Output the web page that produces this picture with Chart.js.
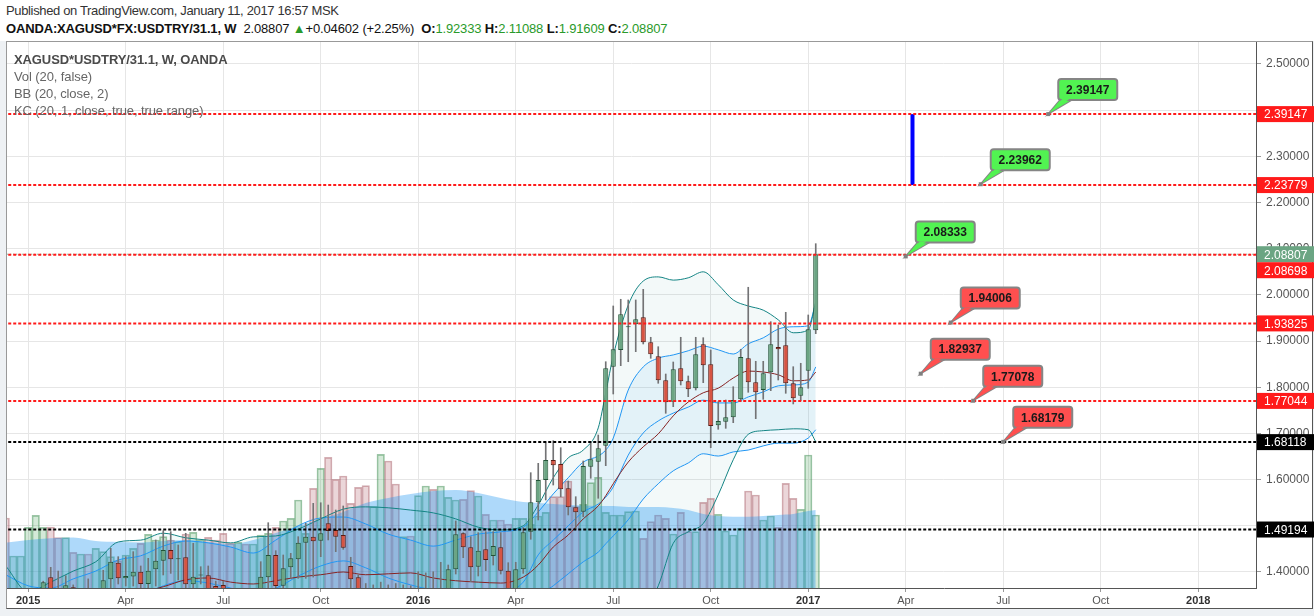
<!DOCTYPE html>
<html><head><meta charset="utf-8">
<script src="https://cdn.jsdelivr.net/npm/chart.js@4.4.1/dist/chart.umd.min.js"></script>
<style>
html,body{margin:0;padding:0;width:1314px;height:616px;overflow:hidden;background:#eef1f4;font-family:"Liberation Sans",Arial,sans-serif;}
#hdr{position:absolute;left:0;top:0;width:1314px;height:41px;background:#fff;}
#l1{position:absolute;left:6px;top:3px;font-size:13px;color:#333;white-space:nowrap;letter-spacing:-0.35px;}
#l2{position:absolute;left:6px;top:21px;font-size:13px;color:#111;white-space:nowrap;letter-spacing:-0.15px;}
#l2 .g{color:#2a9a2a;}
#frame{position:absolute;left:6px;top:41px;width:1307px;height:568px;box-sizing:border-box;background:#fff;border:1px solid #555;border-top-color:#999;border-left-color:#999;}
#c{position:absolute;left:0;top:0;z-index:2;}
#legend{position:absolute;left:14px;top:51px;font-size:13px;color:#666;line-height:17px;z-index:3;white-space:nowrap;letter-spacing:-0.1px;}
#legend b{color:#4a4a4a;}
</style></head>
<body>
<div id="hdr">
  <div id="l1">Published on TradingView.com, January 11, 2017 16:57 MSK</div>
  <div id="l2"><b>OANDA:XAGUSD*FX:USDTRY/31.1, W</b>&nbsp; 2.08807 <span class="g">&#9650;</span>+0.04602 (+2.25%)&nbsp; <b>O:</b><span class="g">1.92333</span> <b>H:</b><span class="g">2.11088</span> <b>L:</b><span class="g">1.91609</span> <b>C:</b><span class="g">2.08807</span></div>
</div>
<div id="frame"></div>
<canvas id="c" width="1314" height="616"></canvas>
<div id="legend"><b>XAGUSD*USDTRY/31.1, W, OANDA</b><br>Vol (20, false)<br>BB (20, close, 2)<br>KC (20, 1, close, true, true range)</div>
<script>
const FONT = '"Liberation Sans", Arial, sans-serif';

// ---- weekly candles, first bar = week -3 (week 0 = week of 5 Jan 2015) ----
const START_WEEK = -3;
const candleOpen = [
 1.348,1.330,1.338,1.340,1.352,1.355,1.3885,1.352,1.345,1.3668,
 1.345,1.350,1.340,1.352,1.3842,1.4201,1.3863,1.3902,1.4006,1.374,
 1.4058,1.4244,1.4476,1.4274,1.4318,1.3733,1.3924,1.3928,1.3696,1.3718,
 1.350,1.340,1.345,1.338,1.352,1.3885,1.4368,1.3703,1.4101,1.4274,
 1.4634,1.4764,1.4678,1.5054,1.4909,1.4801,1.413,1.3885,1.352,1.345,
 1.350,1.360,1.338,1.335,1.350,1.342,1.355,1.362,1.345,1.355,
 1.4058,1.4838,1.4534,1.4115,1.4491,1.4346,1.4534,1.4028,1.358,1.4058,
 1.4873,1.5509,1.5992,1.6425,1.6338,1.5812,1.5401,1.5305,1.628,1.6388,
 1.6735,1.8445,1.8807,1.9299,1.9363,1.9515,1.8974,1.867,1.8151,1.7687,
 1.8411,1.8129,1.7978,1.893,1.8497,1.7176,1.7254,1.735,1.7739,1.8627,
 1.8107,1.7941,1.8324,1.8872,1.8909,1.8086,1.7817,1.8359,1.92333];
const candleHigh = [
 1.355,1.345,1.350,1.358,1.362,1.380,1.4101,1.402,1.392,1.372,
 1.362,1.385,1.362,1.4036,1.4513,1.4331,1.4331,1.444,1.413,1.4296,
 1.4693,1.4894,1.4873,1.4584,1.4838,1.4621,1.4114,1.413,1.380,1.380,
 1.362,1.358,1.360,1.362,1.4223,1.5067,1.4461,1.4368,1.4404,1.4764,
 1.5054,1.5487,1.5499,1.545,1.5342,1.5429,1.4318,1.3936,1.375,1.372,
 1.378,1.372,1.375,1.372,1.370,1.4006,1.398,1.4006,1.421,1.4151,
 1.5104,1.4851,1.4764,1.4851,1.4873,1.4873,1.4851,1.4201,1.421,1.4959,
 1.615,1.6353,1.6821,1.6843,1.6691,1.597,1.563,1.6403,1.6821,1.6966,
 1.8553,1.976,1.9905,1.989,1.989,2.0121,1.9082,1.8878,1.8287,1.8547,
 1.9082,1.8244,1.9082,1.9073,1.8807,1.7687,1.7724,1.8012,1.8822,2.0165,
 1.8562,1.8562,1.942,1.9348,1.9623,1.8445,1.8519,1.9565,2.11088];
const candleLow = [
 1.320,1.322,1.325,1.332,1.340,1.345,1.340,1.335,1.338,1.335,
 1.330,1.335,1.330,1.345,1.360,1.374,1.3696,1.3696,1.360,1.362,
 1.3696,1.3935,1.397,1.3827,1.360,1.358,1.374,1.350,1.345,1.340,
 1.330,1.325,1.330,1.328,1.345,1.360,1.355,1.358,1.3863,1.3863,
 1.3863,1.389,1.4331,1.4693,1.444,1.4491,1.355,1.345,1.335,1.330,
 1.335,1.330,1.325,1.325,1.332,1.335,1.340,1.335,1.338,1.345,
 1.3956,1.4309,1.379,1.3913,1.4028,1.4151,1.3956,1.345,1.350,1.397,
 1.4708,1.5126,1.5559,1.5883,1.563,1.5234,1.4909,1.5197,1.6029,1.5596,
 1.6302,1.7854,1.8467,1.8553,1.877,1.8937,1.8627,1.8086,1.7436,1.7579,
 1.8049,1.7796,1.794,1.8099,1.6691,1.709,1.7111,1.7233,1.7687,1.7891,
 1.732,1.7739,1.7926,1.8157,1.7869,1.7638,1.7709,1.7978,1.91609];
const candleClose = [
 1.330,1.338,1.342,1.352,1.358,1.378,1.350,1.345,1.3712,1.345,
 1.350,1.340,1.355,1.382,1.4223,1.3863,1.3913,1.4006,1.374,1.4028,
 1.4244,1.4476,1.4274,1.429,1.3733,1.3898,1.3935,1.355,1.355,1.350,
 1.340,1.345,1.338,1.350,1.3898,1.4368,1.3696,1.408,1.4296,1.4634,
 1.4764,1.4664,1.4838,1.4887,1.4764,1.4526,1.3842,1.352,1.345,1.350,
 1.360,1.338,1.335,1.350,1.345,1.362,1.360,1.345,1.358,1.4058,
 1.4816,1.4534,1.4101,1.4461,1.426,1.4563,1.4028,1.355,1.4058,1.486,
 1.5509,1.5992,1.6425,1.631,1.579,1.5401,1.5292,1.6295,1.644,1.6678,
 1.8411,1.8822,1.958,1.9311,1.9472,1.8974,1.8714,1.8151,1.7674,1.8389,
 1.8129,1.7956,1.8714,1.8476,1.7161,1.7269,1.735,1.7724,1.8655,1.8107,
 1.7891,1.8302,1.893,1.8822,1.8086,1.7761,1.7999,1.9255,2.08807];
const volume = [
 700,320,320,607,727,607,610,503,503,357,
 340,340,397,363,313,273,330,397,447,537,
 480,513,480,463,540,557,480,507,480,547,
 447,457,440,440,530,547,607,670,697,880,
 547,997,1197,1307,1087,1120,847,1007,1023,813,
 1337,1270,1040,513,520,923,1020,987,1020,907,
 880,887,973,920,737,680,680,640,697,697,
 637,720,757,913,913,1070,813,837,1053,1107,
 757,730,730,763,770,497,663,730,697,540,
 757,563,563,857,897,737,570,530,597,970,
 930,680,720,607,1047,897,787,1330,730];

// ---- indicator readings (week, value) ----
const indWeeks = [-3,0,3,6,9,12,15,18,21,24,27,30,33,36,39,42,45,48,51,54,57,60,63,66,68,70,72,74,76,77,78,80,82,84,86,88,90,92,94,96,98,100,102,104,105];
const bbUpper = [1.413,1.357,1.378,1.402,1.422,1.465,1.469,1.484,1.474,1.469,1.463,1.476,1.478,1.493,1.515,1.536,1.541,1.539,1.534,1.528,1.515,1.497,1.491,1.500,1.545,1.604,1.647,1.664,1.712,1.788,1.868,1.978,2.030,2.039,2.032,2.037,2.050,2.022,1.989,1.976,1.967,1.946,1.918,1.924,1.985];
const bbBasis = [1.344,1.339,1.346,1.348,1.350,1.355,1.357,1.368,1.383,1.387,1.378,1.374,1.381,1.389,1.394,1.400,1.394,1.396,1.398,1.387,1.381,1.378,1.376,1.389,1.415,1.454,1.480,1.515,1.543,1.565,1.591,1.638,1.671,1.699,1.738,1.768,1.788,1.798,1.820,1.835,1.833,1.827,1.814,1.816,1.833];
const bbLower = [1.274,1.322,1.313,1.294,1.279,1.244,1.244,1.251,1.292,1.305,1.294,1.272,1.283,1.285,1.272,1.264,1.246,1.253,1.261,1.246,1.246,1.259,1.261,1.279,1.285,1.305,1.313,1.340,1.344,1.342,1.313,1.298,1.311,1.370,1.462,1.487,1.505,1.567,1.643,1.698,1.706,1.708,1.710,1.708,1.682];
const kcUpper = [1.394,1.370,1.365,1.385,1.402,1.426,1.435,1.456,1.467,1.463,1.454,1.441,1.469,1.500,1.517,1.519,1.504,1.482,1.469,1.456,1.469,1.482,1.487,1.497,1.530,1.569,1.604,1.638,1.651,1.664,1.690,1.794,1.844,1.863,1.870,1.879,1.889,1.881,1.872,1.894,1.907,1.926,1.931,1.933,1.983];
const kcMid = [1.307,1.296,1.292,1.300,1.313,1.335,1.348,1.370,1.381,1.376,1.365,1.355,1.365,1.391,1.413,1.424,1.409,1.387,1.372,1.361,1.357,1.357,1.357,1.378,1.437,1.469,1.500,1.530,1.547,1.562,1.584,1.653,1.701,1.727,1.744,1.757,1.772,1.766,1.766,1.779,1.790,1.803,1.805,1.811,1.844];
const kcLower = [1.220,1.222,1.218,1.216,1.225,1.244,1.261,1.283,1.294,1.290,1.277,1.268,1.261,1.283,1.309,1.329,1.313,1.292,1.274,1.266,1.244,1.231,1.227,1.259,1.344,1.370,1.396,1.422,1.443,1.461,1.478,1.513,1.558,1.591,1.619,1.636,1.656,1.651,1.660,1.664,1.673,1.679,1.679,1.690,1.708];
const volMA = [453,480,497,505,470,460,455,470,480,460,440,480,550,620,690,760,850,900,940,970,980,950,900,860,850,840,830,825,820,820,820,810,810,810,800,780,740,720,713,713,720,730,740,770,780];

// ---- drawn levels ----
const redLevels = [2.39147, 2.23779, 2.08698, 1.93825, 1.77044];
const blackLevels = [1.68118, 1.49194];
const lastPrice = 2.08807;
const targetSegment = {week: 117.9, from: 2.23779, to: 2.39147};
const calloutValues = [2.39147, 2.23962, 2.08333, 1.94006, 1.82937, 1.77078, 1.68179];
const calloutWeeks  = [136, 127, 117, 123, 119, 126, 130];
const calloutKinds  = ['up','up','up','down','down','down','down'];

// ---- time axis ----
const tickDates  = ['2015-01-01','2015-04-01','2015-07-01','2015-10-01','2016-01-01','2016-04-01','2016-07-01','2016-10-01','2017-01-01','2017-04-01','2017-07-01','2017-10-01','2018-01-01'];
const tickLabels = ['2015','Apr','Jul','Oct','2016','Apr','Jul','Oct','2017','Apr','Jul','Oct','2018'];
const BASE = Date.UTC(2015, 0, 5);
const tickWeeks = tickDates.map(d => Math.ceil((Date.parse(d) - BASE) / (7 * 864e5)));

// ---- datasets ----
const up = candleOpen.map((o, i) => candleClose[i] >= o);
const wk = i => START_WEEK + i;
const pts = arr => indWeeks.map((w, i) => ({x: w, y: arr[i]}));

const datasets = [];
function add(d) { datasets.push(d); return datasets.length - 1; }

redLevels.forEach(v => add({type:'line', data:[{x:-6,y:v},{x:170,y:v}], borderColor:'#ff1a1a', borderWidth:2, borderDash:[3,2], pointRadius:0, order:1}));
blackLevels.forEach(v => add({type:'line', data:[{x:-6,y:v},{x:170,y:v}], borderColor:'#000', borderWidth:2, borderDash:[3,2], pointRadius:0, order:1}));
add({type:'line', data:[{x:-6,y:lastPrice},{x:170,y:lastPrice}], borderColor:'#6ba583', borderWidth:1, borderDash:[1,2], pointRadius:0, order:1});
add({type:'line', data:[{x:targetSegment.week,y:targetSegment.from},{x:targetSegment.week,y:targetSegment.to}], borderColor:'#0000ff', borderWidth:4, pointRadius:0, order:1});

add({type:'bar', data: candleOpen.map((o,i)=>({x:wk(i), y:[o, candleClose[i]]})),
  backgroundColor: up.map(u => u ? '#6ba583' : '#d75442'),
  borderColor: up.map(u => u ? '#225437' : '#5b1a13'),
  borderWidth:1, borderSkipped:false, minBarLength:1, barPercentage:0.68, categoryPercentage:1, grouped:false, order:2});
add({type:'bar', data: candleLow.map((l,i)=>({x:wk(i), y:[l, candleHigh[i]]})),
  backgroundColor:'#737375', barThickness:1, grouped:false, order:3});

const lineBase = {type:'line', pointRadius:0, borderWidth:1, fill:false, cubicInterpolationMode:'monotone', order:5};
const iBBLower = add({...lineBase, data: pts(bbLower), borderColor:'#138484'});
add({...lineBase, data: pts(bbUpper), borderColor:'#138484'});
add({...lineBase, data: pts(bbBasis), borderColor:'#872323'});
const iKCLower = add({...lineBase, data: pts(kcLower), borderColor:'#2196f3'});
add({...lineBase, data: pts(kcUpper), borderColor:'#2196f3'});
add({...lineBase, data: pts(kcMid), borderColor:'#2196f3'});

add({type:'line', yAxisID:'yVol', data: pts(volMA), fill:'origin', backgroundColor:'rgba(30,150,240,0.36)', borderWidth:0, pointRadius:0, cubicInterpolationMode:'monotone', order:7});
add({type:'bar', yAxisID:'yVol', data: volume.map((v,i)=>({x:wk(i), y:v})),
  backgroundColor: up.map(u => u ? 'rgba(76,165,90,0.24)' : 'rgba(170,85,95,0.24)'),
  borderColor: up.map(u => u ? 'rgba(60,140,80,0.5)' : 'rgba(160,80,90,0.45)'),
  borderWidth:1, barPercentage:1, categoryPercentage:1, grouped:false, order:8});

add({type:'line', data: pts(kcUpper), fill: iKCLower, backgroundColor:'rgba(33,150,243,0.07)', borderWidth:0, pointRadius:0, cubicInterpolationMode:'monotone', order:10});
add({type:'line', data: pts(bbUpper), fill: iBBLower, backgroundColor:'rgba(19,132,132,0.05)', borderWidth:0, pointRadius:0, cubicInterpolationMode:'monotone', order:11});

// ---- overlay: callouts and price-axis labels ----
function rr(ctx, x, y, w, h, r) {
  ctx.beginPath();
  ctx.moveTo(x + r, y); ctx.lineTo(x + w - r, y); ctx.quadraticCurveTo(x + w, y, x + w, y + r);
  ctx.lineTo(x + w, y + h - r); ctx.quadraticCurveTo(x + w, y + h, x + w - r, y + h);
  ctx.lineTo(x + r, y + h); ctx.quadraticCurveTo(x, y + h, x, y + h - r);
  ctx.lineTo(x, y + r); ctx.quadraticCurveTo(x, y, x + r, y); ctx.closePath();
}
const overlay = {
  id: 'overlay',
  afterDraw(chart) {
    const {ctx, chartArea: a, scales: {x, y}} = chart;
    ctx.save();
    ctx.beginPath(); ctx.rect(a.left, a.top, a.right - a.left, a.bottom - a.top); ctx.clip();
    calloutValues.forEach((v, i) => {
      const tx = x.getPixelForValue(calloutWeeks[i]);
      const ty = y.getPixelForValue(v);
      const bx = tx + 10, by = ty - 35, bw = 59, bh = 21;
      const fill = calloutKinds[i] === 'up' ? '#52f352' : '#ff4f4f';
      ctx.lineWidth = 2; ctx.strokeStyle = '#858585'; ctx.fillStyle = fill;
      ctx.beginPath(); ctx.moveTo(tx + 1, ty - 1); ctx.lineTo(bx + 2, by + bh); ctx.lineTo(bx + 13, by + bh); ctx.closePath();
      ctx.stroke(); ctx.fill();
      rr(ctx, bx, by, bw, bh, 3); ctx.fill(); ctx.stroke();
      ctx.beginPath(); ctx.moveTo(tx + 2, ty - 2); ctx.lineTo(bx + 4, by + bh - 1); ctx.lineTo(bx + 11, by + bh - 1); ctx.closePath(); ctx.fill();
      ctx.fillStyle = '#1a1a1a'; ctx.font = 'bold 12px ' + FONT;
      ctx.textAlign = 'center'; ctx.textBaseline = 'middle';
      ctx.fillText(v.toFixed(5), bx + bw / 2, by + bh / 2 + 1);
      ctx.fillStyle = '#808080'; ctx.fillRect(tx - 2, ty - 2, 4, 4);
    });
    ctx.restore();

    const items = [];
    redLevels.forEach(v => items.push({v, bg:'#ff1a1a'}));
    blackLevels.forEach(v => items.push({v, bg:'#000'}));
    items.push({v: lastPrice, bg:'#6ba583'});
    items.forEach(it => it.yc = y.getPixelForValue(it.v));
    items.sort((p, q) => p.yc - q.yc);
    let prev = -1e9;
    ctx.save();
    items.forEach(it => {
      if (it.yc < prev + 16) it.yc = prev + 16;
      prev = it.yc;
      ctx.fillStyle = it.bg; ctx.fillRect(a.right + 1, it.yc - 8, 57, 16);
      ctx.fillStyle = '#fff'; ctx.font = '12px ' + FONT;
      ctx.textAlign = 'left'; ctx.textBaseline = 'middle';
      ctx.fillText(it.v.toFixed(5), a.right + 8, it.yc + 1);
    });
    ctx.restore();
  }
};

Chart.defaults.font.family = FONT;
new Chart(document.getElementById('c'), {
  type: 'bar',
  data: { datasets },
  options: {
    responsive: false, animation: false, events: [],
    layout: { padding: { top: 42, left: 7, right: 1, bottom: 7 } },
    plugins: { legend: { display: false }, tooltip: { enabled: false } },
    scales: {
      x: {
        type: 'linear', min: -2.83, max: 163.7, offset: false,
        afterBuildTicks: s => { s.ticks = tickWeeks.map(v => ({value: v})); },
        afterFit: s => { s.height = 21; },
        ticks: {
          autoSkip: false, maxRotation: 0, padding: 2,
          callback: (v, i) => tickLabels[i],
          color: c => /^\d{4}$/.test(tickLabels[c.index]) ? '#333' : '#555',
          font: c => ({ size: 11, family: FONT, weight: /^\d{4}$/.test(tickLabels[c.index]) ? 'bold' : 'normal' })
        },
        grid: { color: '#e6e6e6', tickColor: '#999', tickLength: 4, offset: false },
        border: { color: '#555' }
      },
      y: {
        type: 'linear', position: 'right', min: 1.3653, max: 2.5476,
        afterFit: s => { s.width = 57; },
        ticks: {
          stepSize: 0.1, includeBounds: false, padding: 5, color: '#555',
          font: { size: 12, family: FONT },
          callback: v => (Math.abs(v - 2.4) < 1e-6 || Math.abs(v - 1.5) < 1e-6) ? '' : v.toFixed(5)
        },
        grid: { color: '#e6e6e6', tickColor: '#999', tickLength: 5 },
        border: { color: '#555' }
      },
      yVol: { type: 'linear', display: false, min: 0, max: 5460 }
    }
  },
  plugins: [overlay]
});
</script>
</body></html>
